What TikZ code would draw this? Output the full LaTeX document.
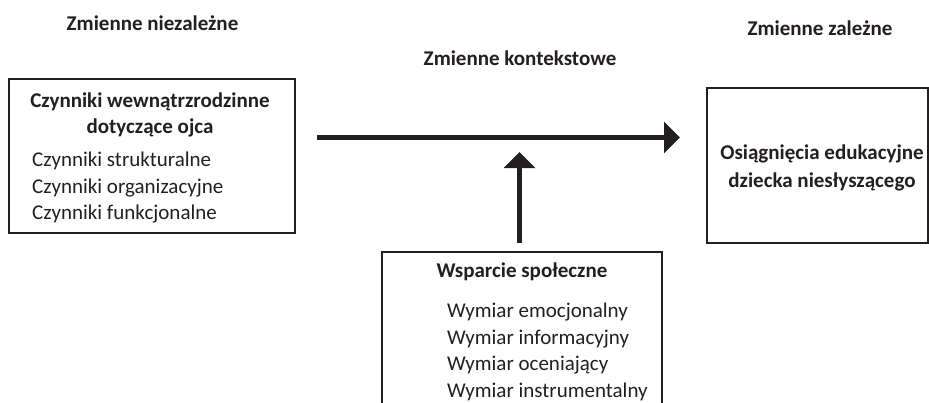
\documentclass[tikz,border=0pt]{standalone}
\usepackage{fontspec}
\setmainfont{Carlito}
\usepackage{tikz}
\usetikzlibrary{positioning}
\usetikzlibrary{arrows.meta}
\usepackage{xcolor}
\definecolor{tekst}{RGB}{35,31,32}

\begin{document}
\begin{tikzpicture}[x=1pt, y=-1pt, every node/.style={text=tekst, inner sep=0pt},
        ramka/.style={rectangle, draw=tekst, line width=1.2pt},
        naglowek/.style={font=\fontsize{21}{26}\selectfont\bfseries},
        lista/.style={font=\fontsize{21}{26.5}\selectfont, align=left},
        strzalka/.style={draw=tekst, line width=5.5pt, -{Triangle[length=16pt, width=31pt]}}]
        \useasboundingbox (0, 0) rectangle (929, 402);
        \clip (0, 0) rectangle (929, 402);

        % naglowki kolumn
        \node[naglowek, anchor=base] (niezalezne) at (152.5, 30) {Zmienne niezależne};
        \node[naglowek, anchor=base] (kontekstowe) at (520, 65) {Zmienne kontekstowe};
        \node[naglowek, anchor=base] (zalezne) at (820, 35) {Zmienne zależne};

        % ramki
        \node[ramka, minimum width=286pt, minimum height=154pt] (czynniki) at (152, 156) {};
        \node[ramka, minimum width=221pt, minimum height=155pt] (osiagniecia) at (817.5, 165.5) {};
        \node[ramka, minimum width=280pt, minimum height=170pt] (wsparcie) at (522, 337) {};

        % teksty w ramkach
        \node[naglowek, align=center, anchor=north] (czynnikiTyt) at (150, 93) {Czynniki wewnątrzrodzinne\\dotyczące ojca};
        \node[lista, anchor=north west] (czynnikiLista) at (32, 152) {Czynniki strukturalne\\Czynniki organizacyjne\\Czynniki funkcjonalne};
        \node[naglowek, align=center, anchor=north, font=\fontsize{21}{28}\selectfont\bfseries] (osiagnieciaTyt) at (822, 145) {Osiągnięcia edukacyjne\\dziecka niesłyszącego};
        \node[naglowek, anchor=base] (wsparcieTyt) at (522, 277) {Wsparcie społeczne};
        \node[lista, anchor=north west] (wsparcieLista) at (447, 303) {Wymiar emocjonalny\\Wymiar informacyjny\\Wymiar oceniający\\Wymiar instrumentalny};

        % strzalki
        \coordinate (poczatek) at (317, 137.5);
        \coordinate (koniec) at (680, 137.5);
        \coordinate (podstawa) at (519.5, 243);
        \coordinate (grot) at (519.5, 152);
        \draw[strzalka] (poczatek) -- (koniec);
        \draw[strzalka] (podstawa) -- (grot);
    \end{tikzpicture}
\end{document}
